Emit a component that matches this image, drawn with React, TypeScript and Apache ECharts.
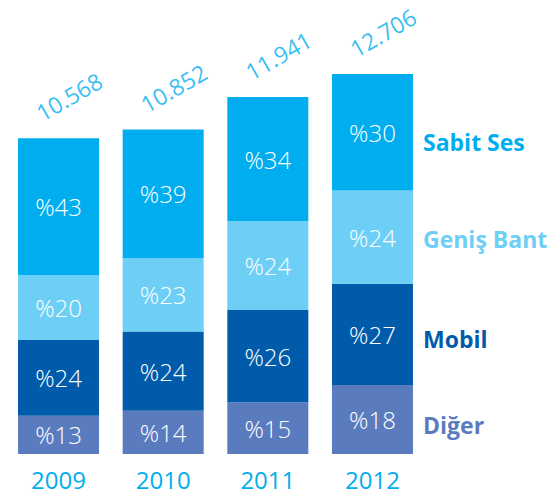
import React, { useEffect, useRef } from "react";
import * as echarts from "echarts";

const years = ["2009", "2010", "2011", "2012"];
const totals = [10.568, 10.852, 11.941, 12.706];
const totalLabels = ["10.568", "10.852", "11.941", "12.706"];

// segment values
const digerValues = [1.28, 1.45, 1.73, 2.31];
const mobilValues = [2.53, 2.65, 3.09, 3.38];
const genisValues = [2.17, 2.45, 2.97, 3.12];
const sabitValues = [4.58, 4.3, 4.15, 3.9];

// percentage labels as printed
const digerPct = ["%13", "%14", "%15", "%18"];
const mobilPct = ["%24", "%24", "%26", "%27"];
const genisPct = ["%20", "%23", "%24", "%24"];
const sabitPct = ["%43", "%39", "%34", "%30"];

const seriesNames = ["Sabit Ses", "Geniş Bant", "Mobil", "Diğer"];
const colors = {
  sabit: "#00AEEF",
  genis: "#6DCFF6",
  mobil: "#005BAA",
  diger: "#5B7BBF",
};

const FONT = "'Open Sans', sans-serif";

export default function App() {
  const ref = useRef<HTMLDivElement>(null);

  useEffect(() => {
    if (!ref.current) return;
    const chart = echarts.init(ref.current, undefined, { renderer: "svg" });

    const makeBar = (name: string, values: number[], labels: string[], color: string) => ({
      name,
      type: "bar",
      stack: "total",
      barWidth: 81,
      data: values.map((v, i) => ({ value: v, label: { formatter: labels[i] } })),
      itemStyle: { color },
      label: {
        show: true,
        position: "inside",
        color: "#ffffff",
        fontFamily: FONT,
        fontWeight: 300,
        fontSize: 24,
      },
      emphasis: { disabled: true },
    });

    chart.setOption({
      animation: false,
      grid: { left: 6.2, right: 126.2, top: 35.4, bottom: 45, containLabel: false },
      xAxis: {
        type: "category",
        data: years,
        axisLine: { show: false },
        axisTick: { show: false },
        axisLabel: {
          color: "#00AEEF",
          fontFamily: FONT,
          fontWeight: 400,
          fontSize: 24,
          margin: 13,
        },
      },
      yAxis: {
        type: "value",
        min: 0,
        max: 14,
        show: false,
        splitLine: { show: false },
      },
      series: [
        makeBar(seriesNames[3], digerValues, digerPct, colors.diger),
        makeBar(seriesNames[2], mobilValues, mobilPct, colors.mobil),
        makeBar(seriesNames[1], genisValues, genisPct, colors.genis),
        makeBar(seriesNames[0], sabitValues, sabitPct, colors.sabit),
        {
          name: "Toplam",
          type: "scatter",
          symbolSize: 1,
          itemStyle: { color: "rgba(0,0,0,0)" },
          data: totals.map((t, i) => ({ value: [years[i], t], label: { formatter: totalLabels[i] } })),
          label: {
            show: true,
            position: [11, -41],
            rotate: 30,
            align: "center",
            verticalAlign: "middle",
            color: "#00AEEF",
            fontFamily: FONT,
            fontWeight: 400,
            fontSize: 23,
          },
          emphasis: { disabled: true },
          z: 5,
        },
      ],
      graphic: [
        { name: "Sabit Ses", y: 142, color: colors.sabit },
        { name: "Geniş Bant", y: 239, color: colors.genis },
        { name: "Mobil", y: 339, color: colors.mobil },
        { name: "Diğer", y: 425, color: colors.diger },
      ].map((g) => ({
        type: "text",
        x: 423,
        y: g.y,
        style: {
          text: g.name,
          fill: g.color,
          font: `700 23px ${FONT}`,
          verticalAlign: "middle",
          align: "left",
        },
      })),
    });

    return () => chart.dispose();
  }, []);

  return (
    <div
      ref={ref}
      style={{ position: "absolute", left: 0, top: 0, width: 551, height: 499, background: "#fff" }}
    />
  );
}
